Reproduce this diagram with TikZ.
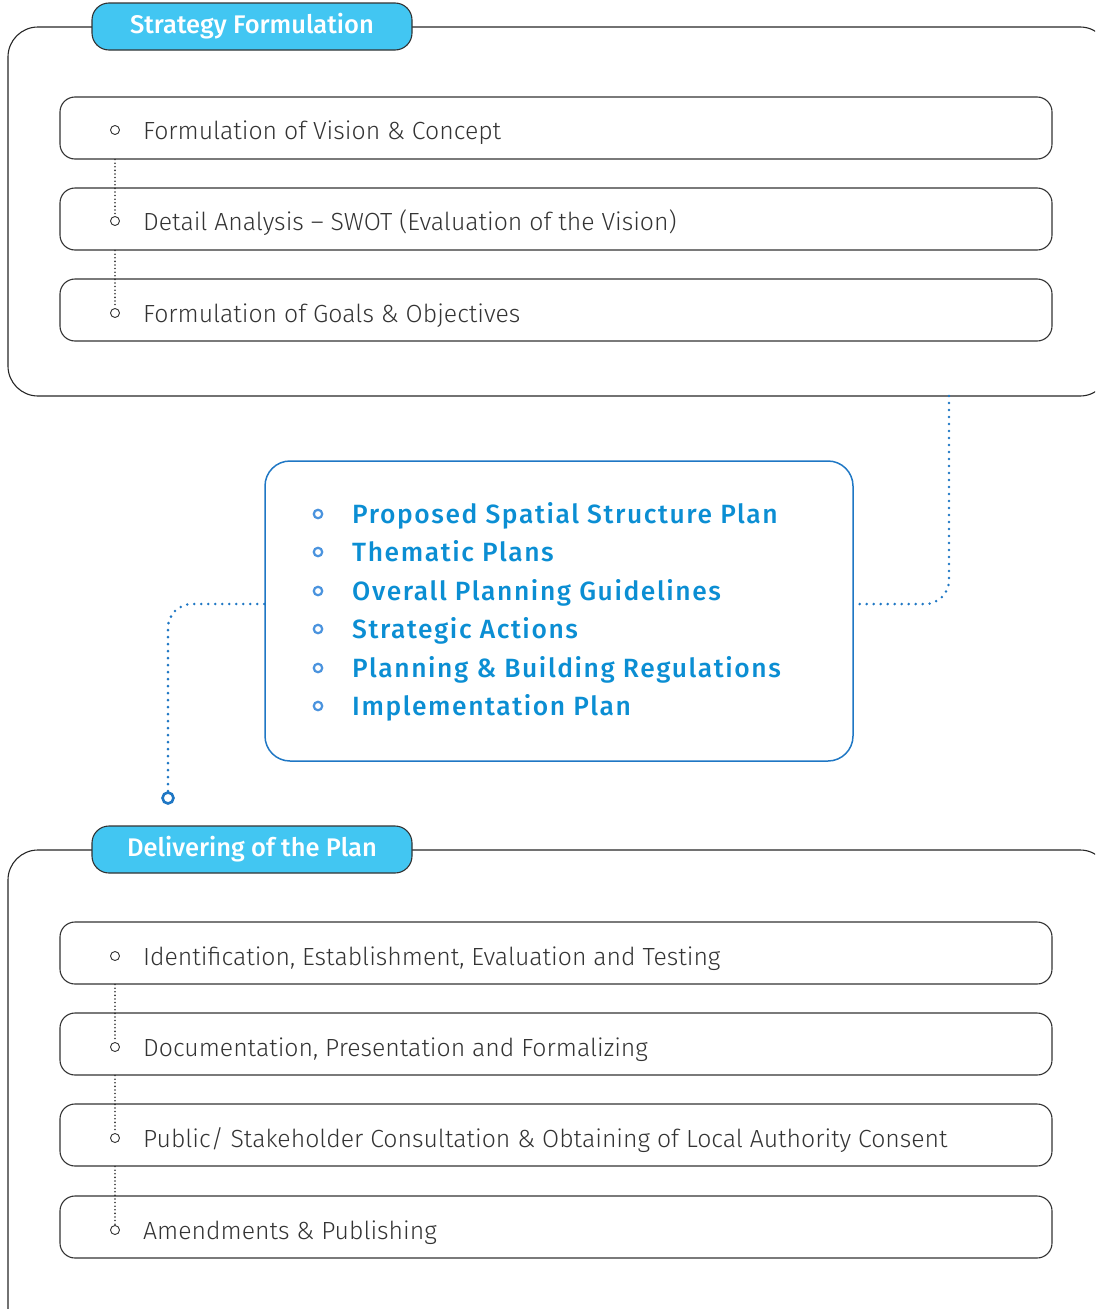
\documentclass[tikz,border=0pt]{standalone}
\usepackage{fontspec}
\usetikzlibrary{calc}
\setmainfont{Fira Sans Light}
\newfontfamily\medfont{Fira Sans Medium}
\newfontfamily\midfont[LetterSpace=6]{Fira Sans Medium}
\definecolor{tabcyan}{HTML}{42C6F2}
\definecolor{txtgray}{HTML}{333333}
\definecolor{lineblue}{HTML}{1F77C4}
\definecolor{textblue}{HTML}{0B8ED3}
\definecolor{bulblue}{HTML}{4A93DE}
\tikzset{
  frame/.style={draw=black!85, line width=1.1pt, rounded corners=30pt, inner sep=0pt},
  tabbox/.style={draw=black!80, fill=tabcyan, line width=1.1pt, rounded corners=17pt,
    minimum width=320pt, minimum height=47pt, inner sep=0pt, text=white,
    font=\medfont\fontsize{25.5}{30}\selectfont},
  itembox/.style={draw=black!80, line width=1.1pt, rounded corners=15pt,
    minimum width=992pt, minimum height=62pt, inner sep=0pt},
  itemtext/.style={anchor=base west, text=txtgray, inner sep=0pt,
    font=\fontsize{24.8}{29}\selectfont},
  bul/.style={circle, draw=txtgray, fill=white, line width=0.9pt, minimum size=9pt, inner sep=0pt},
  gdots/.style={draw=black!80, line width=1.8pt, dash pattern=on 0pt off 3.6pt, line cap=round},
  bdots/.style={draw=lineblue, line width=2.8pt, dash pattern=on 0pt off 7pt, line cap=round},
  midbox/.style={draw=lineblue, line width=1.5pt, rounded corners=25pt,
    minimum width=588pt, minimum height=300pt, inner sep=0pt},
  midtext/.style={anchor=base west, text=textblue, inner sep=0pt,
    font=\midfont\fontsize{26.4}{30}\selectfont},
  midbul/.style={circle, draw=bulblue, line width=2.2pt, minimum size=8.5pt, inner sep=0pt},
  endcirc/.style={circle, draw=lineblue, fill=white, line width=2.6pt, minimum size=11pt, inner sep=0pt}
}
\begin{document}
\begin{tikzpicture}[x=1pt,y=-1pt]
\useasboundingbox (0,0) rectangle (1095,1309);
\clip (0,0) rectangle (1095,1309);

% ---------- top frame ----------
\node[frame, minimum width=1102pt, minimum height=369pt] (f1) at (559,211.5) {};
\node[tabbox] (tab1) at (252,26.5) {Strategy Formulation};

\node[itembox] (s1) at (556,128) {};
\node[itembox] (s2) at (556,219) {};
\node[itembox] (s3) at (556,310) {};

\node[bul] (sb1) at (115,130) {};
\node[bul] (sb2) at (115,221) {};
\node[bul] (sb3) at (115,313) {};
\draw[gdots] (sb2 |- s1.south) -- (sb2.north);
\draw[gdots] (sb3 |- s2.south) -- (sb3.north);

\node[itemtext] (st1) at (143,139) {Formulation of Vision \& Concept};
\node[itemtext] (st2) at (143,230) {Detail Analysis -- SWOT (Evaluation of the Vision)};
\node[itemtext] (st3) at (143,322) {Formulation of Goals \& Objectives};

% ---------- middle box ----------
\node[midbox] (mid) at (559,611) {};
\foreach \i/\y/\t in {1/514/Proposed Spatial Structure Plan,
                      2/552/Thematic Plans,
                      3/591/Overall Planning Guidelines,
                      4/629/Strategic Actions,
                      5/668/Planning \& Building Regulations,
                      6/706/Implementation Plan}{
  \node[midbul] (mb\i) at (318,\y) {};
  \node[midtext] (mt\i) at (352,\y+9.5) {\t};
}

\coordinate (fbot) at (949,396);
\coordinate (mr) at ($(mid.east)+(0,-7)$);
\coordinate (ml) at ($(mid.west)+(0,-7)$);
\draw[bdots, rounded corners=24pt] (fbot) -- (949,604) -- (mr);
\node[endcirc] (ec) at (168,798) {};
\draw[bdots, rounded corners=24pt] (ml) -- (168,604) -- (ec.north);

% ---------- bottom frame ----------
\node[frame, minimum width=1102pt, minimum height=490pt] (f2) at (559,1095) {};
\node[tabbox] (tab2) at (252,849.5) {Delivering of the Plan};

\node[itembox] (d1) at (556,953) {};
\node[itembox] (d2) at (556,1044) {};
\node[itembox] (d3) at (556,1135) {};
\node[itembox] (d4) at (556,1227) {};

\node[bul] (db1) at (115,956) {};
\node[bul] (db2) at (115,1047) {};
\node[bul] (db3) at (115,1138) {};
\node[bul] (db4) at (115,1230) {};
\draw[gdots] (db2 |- d1.south) -- (db2.north);
\draw[gdots] (db3 |- d2.south) -- (db3.north);
\draw[gdots] (db4 |- d3.south) -- (db4.north);

\node[itemtext] (dt1) at (143,965) {Identification, Establishment, Evaluation and Testing};
\node[itemtext] (dt2) at (143,1056) {Documentation, Presentation and Formalizing};
\node[itemtext] (dt3) at (143,1147) {Public/ Stakeholder Consultation \& Obtaining of Local Authority Consent};
\node[itemtext] (dt4) at (143,1239) {Amendments \& Publishing};
\end{tikzpicture}
\end{document}
